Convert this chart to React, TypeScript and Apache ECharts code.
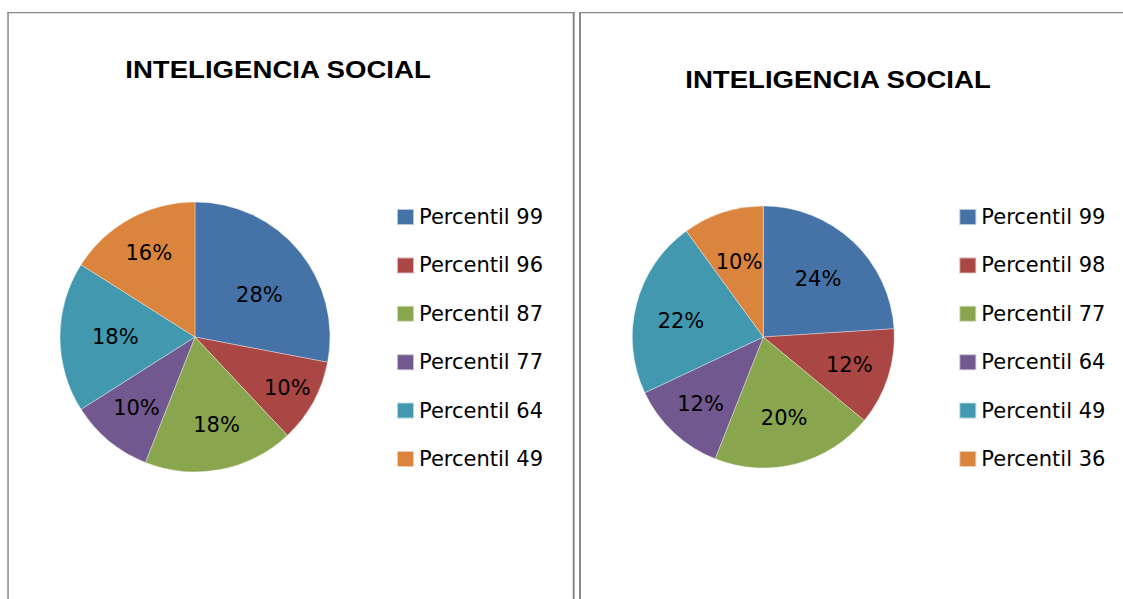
import React, { useEffect, useRef } from "react";
import * as echarts from "echarts";

const CATEGORIES_LEFT = ["Percentil 99", "Percentil 96", "Percentil 87", "Percentil 77", "Percentil 64", "Percentil 49"];
const VALUES_LEFT = [28, 10, 18, 10, 18, 16];
const CATEGORIES_RIGHT = ["Percentil 99", "Percentil 98", "Percentil 77", "Percentil 64", "Percentil 49", "Percentil 36"];
const VALUES_RIGHT = [24, 12, 20, 12, 22, 10];
const TITLE = "INTELIGENCIA SOCIAL";

const COLORS = ["#4572A7", "#AA4643", "#89A54E", "#71588F", "#4198AF", "#DB843D"];
// label placement (style): radial fraction of the radius and angular nudge in degrees
const LABEL_RADIUS_LEFT = [0.57, 0.78, 0.67, 0.68, 0.59, 0.71];
const LABEL_NUDGE_LEFT = [6.5, 0, -3, 0, 0, 0];
const LABEL_RADIUS_RIGHT = [0.61, 0.69, 0.64, 0.7, 0.64, 0.6];
const LABEL_NUDGE_RIGHT = [0, 0, 0, 0, -3.5, 0];

type Cfg = {
  cats: string[];
  vals: number[];
  labelR: number[];
  labelNudge: number[];
  center: [number, number];
  radius: number;
  legendLeft: number;
  titleX: number;
  titleY: number;
  borders: { x: number; y: number; width: number; height: number }[];
};

function makeOption(c: Cfg) {
  const total = c.vals.reduce((a, b) => a + b, 0);
  return {
    animation: false,
    color: COLORS,
    graphic: [
      ...c.borders.map((b) => ({
        type: "rect",
        shape: b,
        style: { fill: "#888888" },
        silent: true,
      })),
      {
        type: "text",
        x: c.titleX,
        y: c.titleY,
        scaleX: 1.2,
        style: {
          text: TITLE,
          fontSize: 23,
          fontWeight: "bold",
          fontFamily: "Liberation Sans, Arial, sans-serif",
          fill: "#000",
          align: "center",
          verticalAlign: "middle",
        },
      },
    ],
    legend: {
      orient: "vertical",
      left: c.legendLeft,
      top: 201,
      icon: "rect",
      itemWidth: 17,
      itemHeight: 16,
      itemGap: 26.4,
      selectedMode: false,
      data: c.cats,
      textStyle: {
        fontFamily: "DejaVu Sans",
        fontSize: 21,
        lineHeight: 22,
        color: "#000",
      },
    },
    series: [
      {
        type: "pie",
        center: c.center,
        radius: c.radius,
        startAngle: 90,
        clockwise: true,
        itemStyle: { borderColor: "rgba(255,255,255,0.6)", borderWidth: 0.6 },
        emphasis: { disabled: true },
        label: {
          show: true,
          position: "inside",
          formatter: (p: any) => Math.round(p.percent) + "%",
          fontFamily: "DejaVu Sans",
          fontSize: 21,
          color: "#000",
          align: "center",
          verticalAlign: "middle",
        },
        labelLine: { show: false },
        labelLayout: (params: any) => {
          const i = params.dataIndex;
          let cum = 0;
          for (let j = 0; j < i; j++) cum += c.vals[j];
          const mid = ((cum + c.vals[i] / 2) / total) * Math.PI * 2 + (c.labelNudge[i] * Math.PI) / 180;
          const k = c.labelR[i] * c.radius;
          return {
            x: c.center[0] + k * Math.sin(mid),
            y: c.center[1] - k * Math.cos(mid),
            align: "center",
            verticalAlign: "middle",
          };
        },
        data: c.cats.map((name, i) => ({ name, value: c.vals[i] })),
      },
    ],
  };
}

const LEFT_OFFSET = 577;

function ChartBox({ cfg, left, width }: { cfg: Cfg; left: number; width: number }) {
  const ref = useRef<HTMLDivElement>(null);
  useEffect(() => {
    if (!ref.current) return;
    const chart = echarts.init(ref.current, undefined, { renderer: "svg" });
    chart.setOption(makeOption(cfg) as any);
    return () => chart.dispose();
  }, []);
  return (
    <div
      ref={ref}
      style={{ position: "absolute", left, top: 0, width, height: 599, background: "#fff" }}
    />
  );
}

export default function App() {
  const leftCfg: Cfg = {
    cats: CATEGORIES_LEFT,
    vals: VALUES_LEFT,
    labelR: LABEL_RADIUS_LEFT,
    labelNudge: LABEL_NUDGE_LEFT,
    center: [195, 337],
    radius: 135,
    legendLeft: 391,
    titleX: 278,
    titleY: 69.5,
    borders: [
      { x: 7.3, y: 12, width: 1.5, height: 600 },
      { x: 7.3, y: 12, width: 567.4, height: 1.3 },
      { x: 572.7, y: 12, width: 2, height: 600 },
    ],
  };
  const rightCfg: Cfg = {
    cats: CATEGORIES_RIGHT,
    vals: VALUES_RIGHT,
    labelR: LABEL_RADIUS_RIGHT,
    labelNudge: LABEL_NUDGE_RIGHT,
    center: [763.3 - LEFT_OFFSET, 337],
    radius: 131,
    legendLeft: 953.3 - LEFT_OFFSET,
    titleX: 838 - LEFT_OFFSET,
    titleY: 80,
    borders: [
      { x: 579 - LEFT_OFFSET, y: 12, width: 2, height: 600 },
      { x: 579 - LEFT_OFFSET, y: 12, width: 1123 - 579, height: 1.3 },
    ],
  };
  return (
    <div style={{ position: "absolute", left: 0, top: 0, width: 1123, height: 599, background: "#fff" }}>
      <ChartBox cfg={leftCfg} left={0} width={LEFT_OFFSET} />
      <ChartBox cfg={rightCfg} left={LEFT_OFFSET} width={1123 - LEFT_OFFSET} />
    </div>
  );
}
